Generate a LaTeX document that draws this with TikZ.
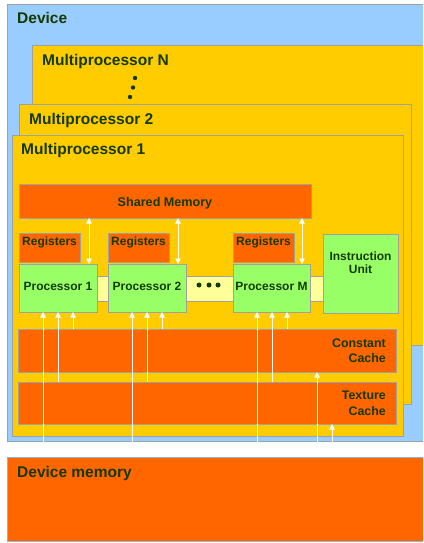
\documentclass[tikz,border=0pt]{standalone}
\usepackage{fontspec}
\setmainfont{Liberation Sans}
\usetikzlibrary{arrows.meta,calc}
\definecolor{devblue}{HTML}{99CCFF}
\definecolor{mpyellow}{HTML}{FFCC00}
\definecolor{memorange}{HTML}{FF6600}
\definecolor{procgreen}{HTML}{99FF66}
\definecolor{busyellow}{HTML}{FFFF99}
\definecolor{boxgray}{HTML}{A0A0A0}
\definecolor{txtgreen}{HTML}{143A00}
\begin{document}
\begin{tikzpicture}[x=1pt,y=-1pt,
  box/.style={draw=boxgray, line width=0.9pt, rectangle, inner sep=0pt, outer sep=0pt, anchor=north west},
  big/.style={font=\fontsize{15.5}{17}\selectfont\bfseries, text=txtgreen, inner sep=0pt},
  small/.style={font=\fontsize{12}{16}\selectfont\bfseries, text=txtgreen, inner sep=0pt},
  arr/.style={draw=white, line width=0.9pt, -{Triangle[width=5.5pt,length=5.5pt]}},
  darr/.style={draw=white, line width=0.9pt, {Triangle[width=5.5pt,length=5.5pt]}-{Triangle[width=5.5pt,length=5.5pt]}},
  dot/.style={fill=txtgreen, draw=none}]
\useasboundingbox (0,0) rectangle (423,543);
\clip (0,0) rectangle (423,543);
% device
\node[box, fill=devblue, minimum width=430pt, minimum height=437pt] (dev) at (7,4) {};
% multiprocessors
\node[box, fill=mpyellow, minimum width=400pt, minimum height=300pt] (mpn) at (32,45) {};
\fill[dot] (135,78) circle (2.2pt);
\fill[dot] (133,87.5) circle (2.2pt);
\fill[dot] (130,97) circle (2.2pt);
\node[box, fill=mpyellow, minimum width=392pt, minimum height=300pt] (mp2) at (19,104) {};
\node[box, fill=mpyellow, minimum width=391pt, minimum height=301pt] (mp1) at (12,135) {};
% shared memory
\node[box, fill=memorange, minimum width=292pt, minimum height=34pt] (sm) at (19,184) {};
% bus
\node[box, fill=busyellow, minimum width=226pt, minimum height=25pt] (bus) at (97,276) {};
% registers
\node[box, fill=memorange, minimum width=61pt, minimum height=29pt] (r1) at (19,233) {};
\node[box, fill=memorange, minimum width=61pt, minimum height=29pt] (r2) at (108,233) {};
\node[box, fill=memorange, minimum width=61pt, minimum height=29pt] (r3) at (233,233) {};
% processors
\node[box, fill=procgreen, minimum width=78pt, minimum height=48pt] (p1) at (19,264) {};
\node[box, fill=procgreen, minimum width=78pt, minimum height=48pt] (p2) at (108,264) {};
\node[box, fill=procgreen, minimum width=77pt, minimum height=48pt] (pm) at (233,264) {};
\node[box, fill=procgreen, minimum width=75pt, minimum height=79pt] (iu) at (323,234) {};
\fill[dot] (199,285) circle (2.5pt);
\fill[dot] (209,285) circle (2.5pt);
\fill[dot] (218,285) circle (2.5pt);
% caches
\node[box, fill=memorange, minimum width=378pt, minimum height=43pt] (cc) at (18,329) {};
\node[box, fill=memorange, minimum width=378pt, minimum height=42pt] (tc) at (18,382) {};
% device memory
\node[box, fill=memorange, draw=devblue!70!gray, minimum width=430pt, minimum height=84pt] (dm) at (7,457) {};
% arrows to processors
\foreach \p in {p1,p2,pm}{
  \coordinate (\p a) at ($(\p.south west)+(24,0)$);
  \coordinate (\p b) at ($(\p.south west)+(39,0)$);
  \coordinate (\p c) at ($(\p.south west)+(54,0)$);
  \coordinate (\p s) at ($(\p.north east)+(-8,0)$);
  \draw[arr] (\p a |- dm.north) -- (\p a);
  \draw[arr] (\p b |- tc.north) -- (\p b);
  \draw[arr] (\p c |- cc.north) -- (\p c);
  \draw[darr] (\p s |- sm.south) -- (\p s);
}
\coordinate (ccin) at ($(cc.south west)+(299,0)$);
\coordinate (tcin) at ($(tc.south west)+(314,0)$);
\draw[arr] (ccin |- dm.north) -- (ccin);
\draw[arr] (tcin |- dm.north) -- (tcin);
% labels
\node[big, anchor=base west] (tdev) at (17,24) {Device};
\node[big, anchor=base west] (tmpn) at (42,65) {Multiprocessor N};
\node[big, anchor=base west] (tmp2) at (29,124) {Multiprocessor 2};
\node[big, anchor=base west] (tmp1) at (21,154.3) {Multiprocessor 1};
\node[big, anchor=base west] (tdm) at (17,477.3) {Device memory};
\node[small, font=\fontsize{12.6}{16}\selectfont\bfseries, anchor=base] (tsm) at (165,206) {Shared Memory};
\node[small, anchor=base west] (tr1) at (22,245) {Registers};
\node[small, anchor=base west] (tr2) at (111,245) {Registers};
\node[small, anchor=base west] (tr3) at (236,245) {Registers};
\node[small, anchor=base] (tp1) at (58,290.7) {Processor 1};
\node[small, anchor=base] (tp2) at (147,290.7) {Processor 2};
\node[small, anchor=base] (tpm) at (271.5,290.7) {Processor M};
\node[small, anchor=base, align=center, font=\fontsize{12}{13.7}\selectfont\bfseries] (tiu) at (360.5,273.7) {Instruction\\Unit};
\node[small, anchor=base east, align=right, font=\fontsize{12.4}{15.5}\selectfont\bfseries] (tcc) at (386,362.7) {Constant\\Cache};
\node[small, anchor=base east, align=right, font=\fontsize{12.4}{15.5}\selectfont\bfseries] (ttc) at (386,415) {Texture\\Cache};
\end{tikzpicture}
\end{document}
